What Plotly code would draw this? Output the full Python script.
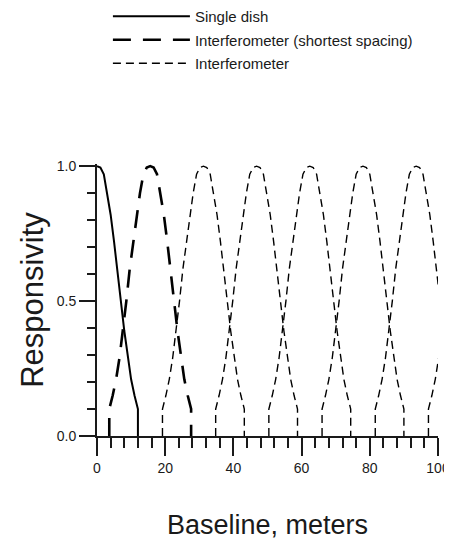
import plotly.graph_objects as go

# single dish response vs baseline (m)
dish_x = [0, 1, 2, 3, 4, 5, 6, 7, 8, 9, 10, 11, 12, 12]
dish_y = [1.0, 0.995, 0.97, 0.9, 0.82, 0.72, 0.62, 0.5, 0.39, 0.29, 0.21, 0.15, 0.1, 0.0]

# interferometer fringe: offset from the spacing (m) and responsivity
fringe_dx = [-12, -12, -11, -10, -9, -8, -7, -6, -5, -4, -3, -2, -1, 0,
             1, 2, 3, 4, 5, 6, 7, 8, 9, 10, 11, 12, 12]
fringe_y = [0.0, 0.1, 0.15, 0.21, 0.29, 0.39, 0.5, 0.62, 0.72, 0.82, 0.9, 0.97, 0.995, 1.0,
            0.995, 0.97, 0.9, 0.82, 0.72, 0.62, 0.5, 0.39, 0.29, 0.21, 0.15, 0.1, 0.0]

shortest_spacing = 15.6
other_spacings = [31.2, 46.8, 62.4, 78.0, 93.6, 109.2]

FONT = "Liberation Sans, Arial, sans-serif"
INK = "#1a1a1a"

fig = go.Figure()
fig.add_trace(go.Scatter(x=dish_x, y=dish_y, mode="lines", name="Single dish",
                         legendgroup="a",
                         line=dict(color="black", width=2)))
fig.add_trace(go.Scatter(x=[shortest_spacing + d for d in fringe_dx], y=fringe_y, mode="lines",
                         name="Interferometer (shortest spacing)", legendgroup="b",
                         line=dict(color="black", width=2.6, dash="18px,12px")))
for i, s in enumerate(other_spacings):
    fig.add_trace(go.Scatter(x=[s + d for d in fringe_dx], y=fringe_y, mode="lines",
                             name="Interferometer", showlegend=(i == 0), legendgroup="c",
                             line=dict(color="black", width=1.4, dash="8px,5px")))

# page body has an 8px margin, so the figure is drawn smaller to fit the window
fig.update_layout(
    width=444, height=532,
    margin=dict(l=89, r=14, t=156, b=104, autoexpand=False),
    paper_bgcolor="white", plot_bgcolor="white",
    font=dict(family=FONT, size=14, color=INK),
    showlegend=True,
    legend=dict(x=0.032, y=1.603, xanchor="left", yanchor="top", itemwidth=77,
                traceorder="grouped", tracegroupgap=1,
                font=dict(size=15), bgcolor="rgba(0,0,0,0)"),
    xaxis=dict(range=[0, 100], showgrid=False, zeroline=False,
               showline=True, linecolor=INK, linewidth=2,
               ticks="outside", ticklen=18, tickwidth=1.6, tickcolor=INK,
               dtick=20, tick0=0,
               minor=dict(ticks="outside", dtick=4, ticklen=10, tickwidth=1.6, tickcolor=INK),
               title=dict(text="Baseline, meters", font=dict(size=27), standoff=46),
               automargin=False),
    yaxis=dict(range=[0, 1.008], showgrid=False, zeroline=False,
               showline=True, linecolor=INK, linewidth=2,
               ticks="outside", ticklen=16, tickwidth=1.6, tickcolor=INK,
               dtick=0.5, tick0=0, tickformat=".1f",
               minor=dict(ticks="outside", dtick=0.1, ticklen=8, tickwidth=1.6, tickcolor=INK),
               title=dict(text="Responsivity", font=dict(size=31), standoff=4),
               automargin=False),
)

fig.write_html("out.html")
